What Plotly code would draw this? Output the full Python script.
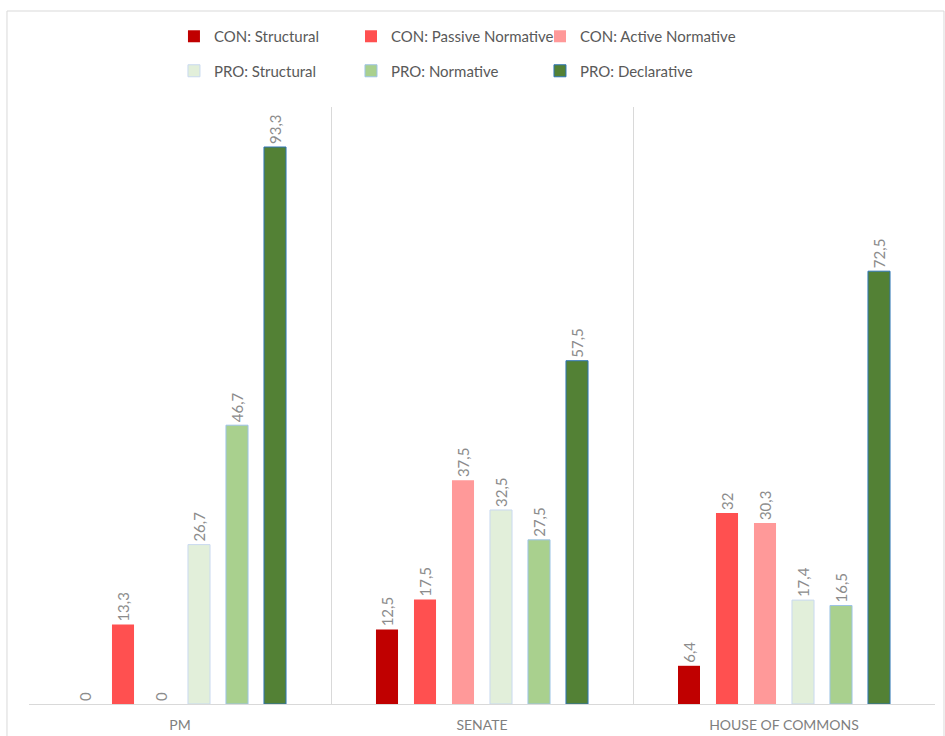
import plotly.graph_objects as go

categories = ["PM", "SENATE", "HOUSE OF COMMONS"]
series_names = ["CON: Structural", "CON: Passive Normative", "CON: Active Normative",
                "PRO: Structural", "PRO: Normative", "PRO: Declarative"]
con_structural = [0, 12.5, 6.4]
con_passive_normative = [13.3, 17.5, 32]
con_active_normative = [0, 37.5, 30.3]
pro_structural = [26.7, 32.5, 17.4]
pro_normative = [46.7, 27.5, 16.5]
pro_declarative = [93.3, 57.5, 72.5]

series_values = [con_structural, con_passive_normative, con_active_normative,
                 pro_structural, pro_normative, pro_declarative]
fill_colors = ["#C00000", "#FF5050", "#FF9999", "#E2EFDA", "#A9D08E", "#538135"]
line_colors = ["#C00000", "#FF5050", "#FF9999", "#C9D9F0", "#9DC3E6", "#2E75B6"]
line_widths = [0, 0, 0, 1, 1, 1]
# legend columns: (CON Structural, PRO Structural), (Passive, PRO Normative), (Active, Declarative)
legend_ids = ["legend", "legend2", "legend3", "legend", "legend2", "legend3"]


def fmt(v):
    return f"{v:g}".replace(".", ",")


fig = go.Figure()
for i, (name, vals, fc, lc, lw, lg) in enumerate(zip(series_names, series_values, fill_colors,
                                                     line_colors, line_widths, legend_ids)):
    fig.add_trace(go.Bar(
        x=categories, y=vals, name=name,
        marker=dict(color=fc, line=dict(color=lc, width=lw)),
        text=[fmt(v) for v in vals], textposition="outside", textangle=-90,
        textfont=dict(size=15, color="#8c8c8c", family="Lato"), cliponaxis=False,
        constraintext="none", legend=lg, legendgroup=f"g{i}",
    ))

legend_common = dict(orientation="v", font=dict(size=15, color="#595959", family="Lato"),
                     bgcolor="rgba(0,0,0,0)", itemclick=False, xanchor="left",
                     yanchor="top", traceorder="grouped", tracegroupgap=12)

fig.update_layout(
    width=945, height=736,
    margin=dict(l=29, r=10, t=107, b=32, autoexpand=False),
    paper_bgcolor="white", plot_bgcolor="white",
    font=dict(family="Lato", color="#7f7f7f"),
    barmode="group", bargap=0.245, bargroupgap=0.42,
    showlegend=True,
    legend=dict(x=0.1600, y=1.1457, **legend_common),
    legend2=dict(x=0.3554, y=1.1457, **legend_common),
    legend3=dict(x=0.5640, y=1.1457, **legend_common),
    xaxis=dict(type="category", range=[-0.5, 2.5], tickson="boundaries", ticks="",
               showgrid=True, gridcolor="#d9d9d9", gridwidth=1,
               showline=True, linecolor="#d9d9d9", linewidth=1,
               tickfont=dict(size=14, color="#7f7f7f", family="Lato"),
               ticklabelstandoff=8, automargin=False),
    yaxis=dict(range=[0, 100], showgrid=False, zeroline=False, showticklabels=False,
               showline=False, ticks="", automargin=False),
    shapes=[dict(type="rect", xref="paper", yref="paper",
                 x0=-0.0243, x1=1.0099, y0=-0.08, y1=1.1608,
                 line=dict(color="#d9d9d9", width=1), fillcolor="rgba(0,0,0,0)", layer="below")],
)

fig.write_html("out.html")
